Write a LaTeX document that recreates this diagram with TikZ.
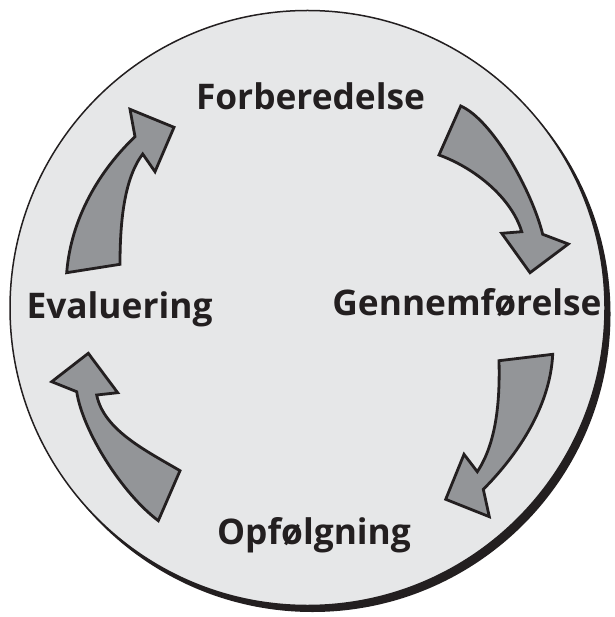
\documentclass[tikz,border=0pt]{standalone}
\usepackage{fontspec}
\setmainfont{Open Sans}
\definecolor{disc}{HTML}{E6E7E8}
\definecolor{arrowfill}{HTML}{939598}
\definecolor{ink}{HTML}{231F20}
\tikzset{
  blockarrow/.style={fill=arrowfill, draw=ink, line width=2.8pt, line join=miter},
  lbl/.style={anchor=base, text=ink, inner sep=0pt, font=\fontsize{35.3}{38}\selectfont\bfseries}
}
\begin{document}
\begin{tikzpicture}[x=1pt,y=-1pt]
\useasboundingbox (0,0) rectangle (614,617);
% shadow and disc
\fill[ink] (312.5,314) circle (298);
\fill[disc, draw=ink, line width=1.5pt] (307.5,308) circle (297.5);
% labels
\node[lbl] (forb) at (310.5,109.5) {Forberedelse};
\node[lbl] (genn) at (467,315.5) {Gennemførelse};
\node[lbl] (eval) at (119.5,318.5) {Evaluering};
\node[lbl] (opfl) at (314,544.5) {Opfølgning};
% arrow top-right
\draw[blockarrow] (460.7,106) .. controls (492.5,120) and (531.8,190.6) .. (542.7,234.3)
  -- (568.3,244) -- (530,272.7) -- (501.7,233.3) -- (521.7,231.7)
  .. controls (511.6,198) and (475,168) .. (439,155) -- cycle;
% arrow right, down-left
\draw[blockarrow] (499,360.7) -- (552.7,354.3) .. controls (550,409) and (514.8,457.8) .. (483.3,489.3)
  -- (489.3,516.7) -- (445.7,499.3) -- (464,454.3) -- (477.3,471.7)
  .. controls (496.6,442.6) and (500,400.7) .. cycle;
% arrow bottom-left, up-left
\draw[blockarrow] (180,470.7) -- (158.3,520.7) .. controls (122.3,493.7) and (82.7,431.3) .. (76.7,391.7)
  -- (51.7,381.7) -- (88.3,353.3) -- (117.7,392.7) -- (96.7,395)
  .. controls (103.7,430) and (146,450.7) .. cycle;
% arrow left, up-right
\draw[blockarrow] (66.7,272.7) .. controls (71,217.7) and (100,170) .. (135,136.7)
  -- (130,109.3) -- (174,127.3) -- (155,171.7) -- (142.7,154)
  .. controls (124.7,178) and (120,219.3) .. (120,264.3) -- cycle;
\end{tikzpicture}
\end{document}
